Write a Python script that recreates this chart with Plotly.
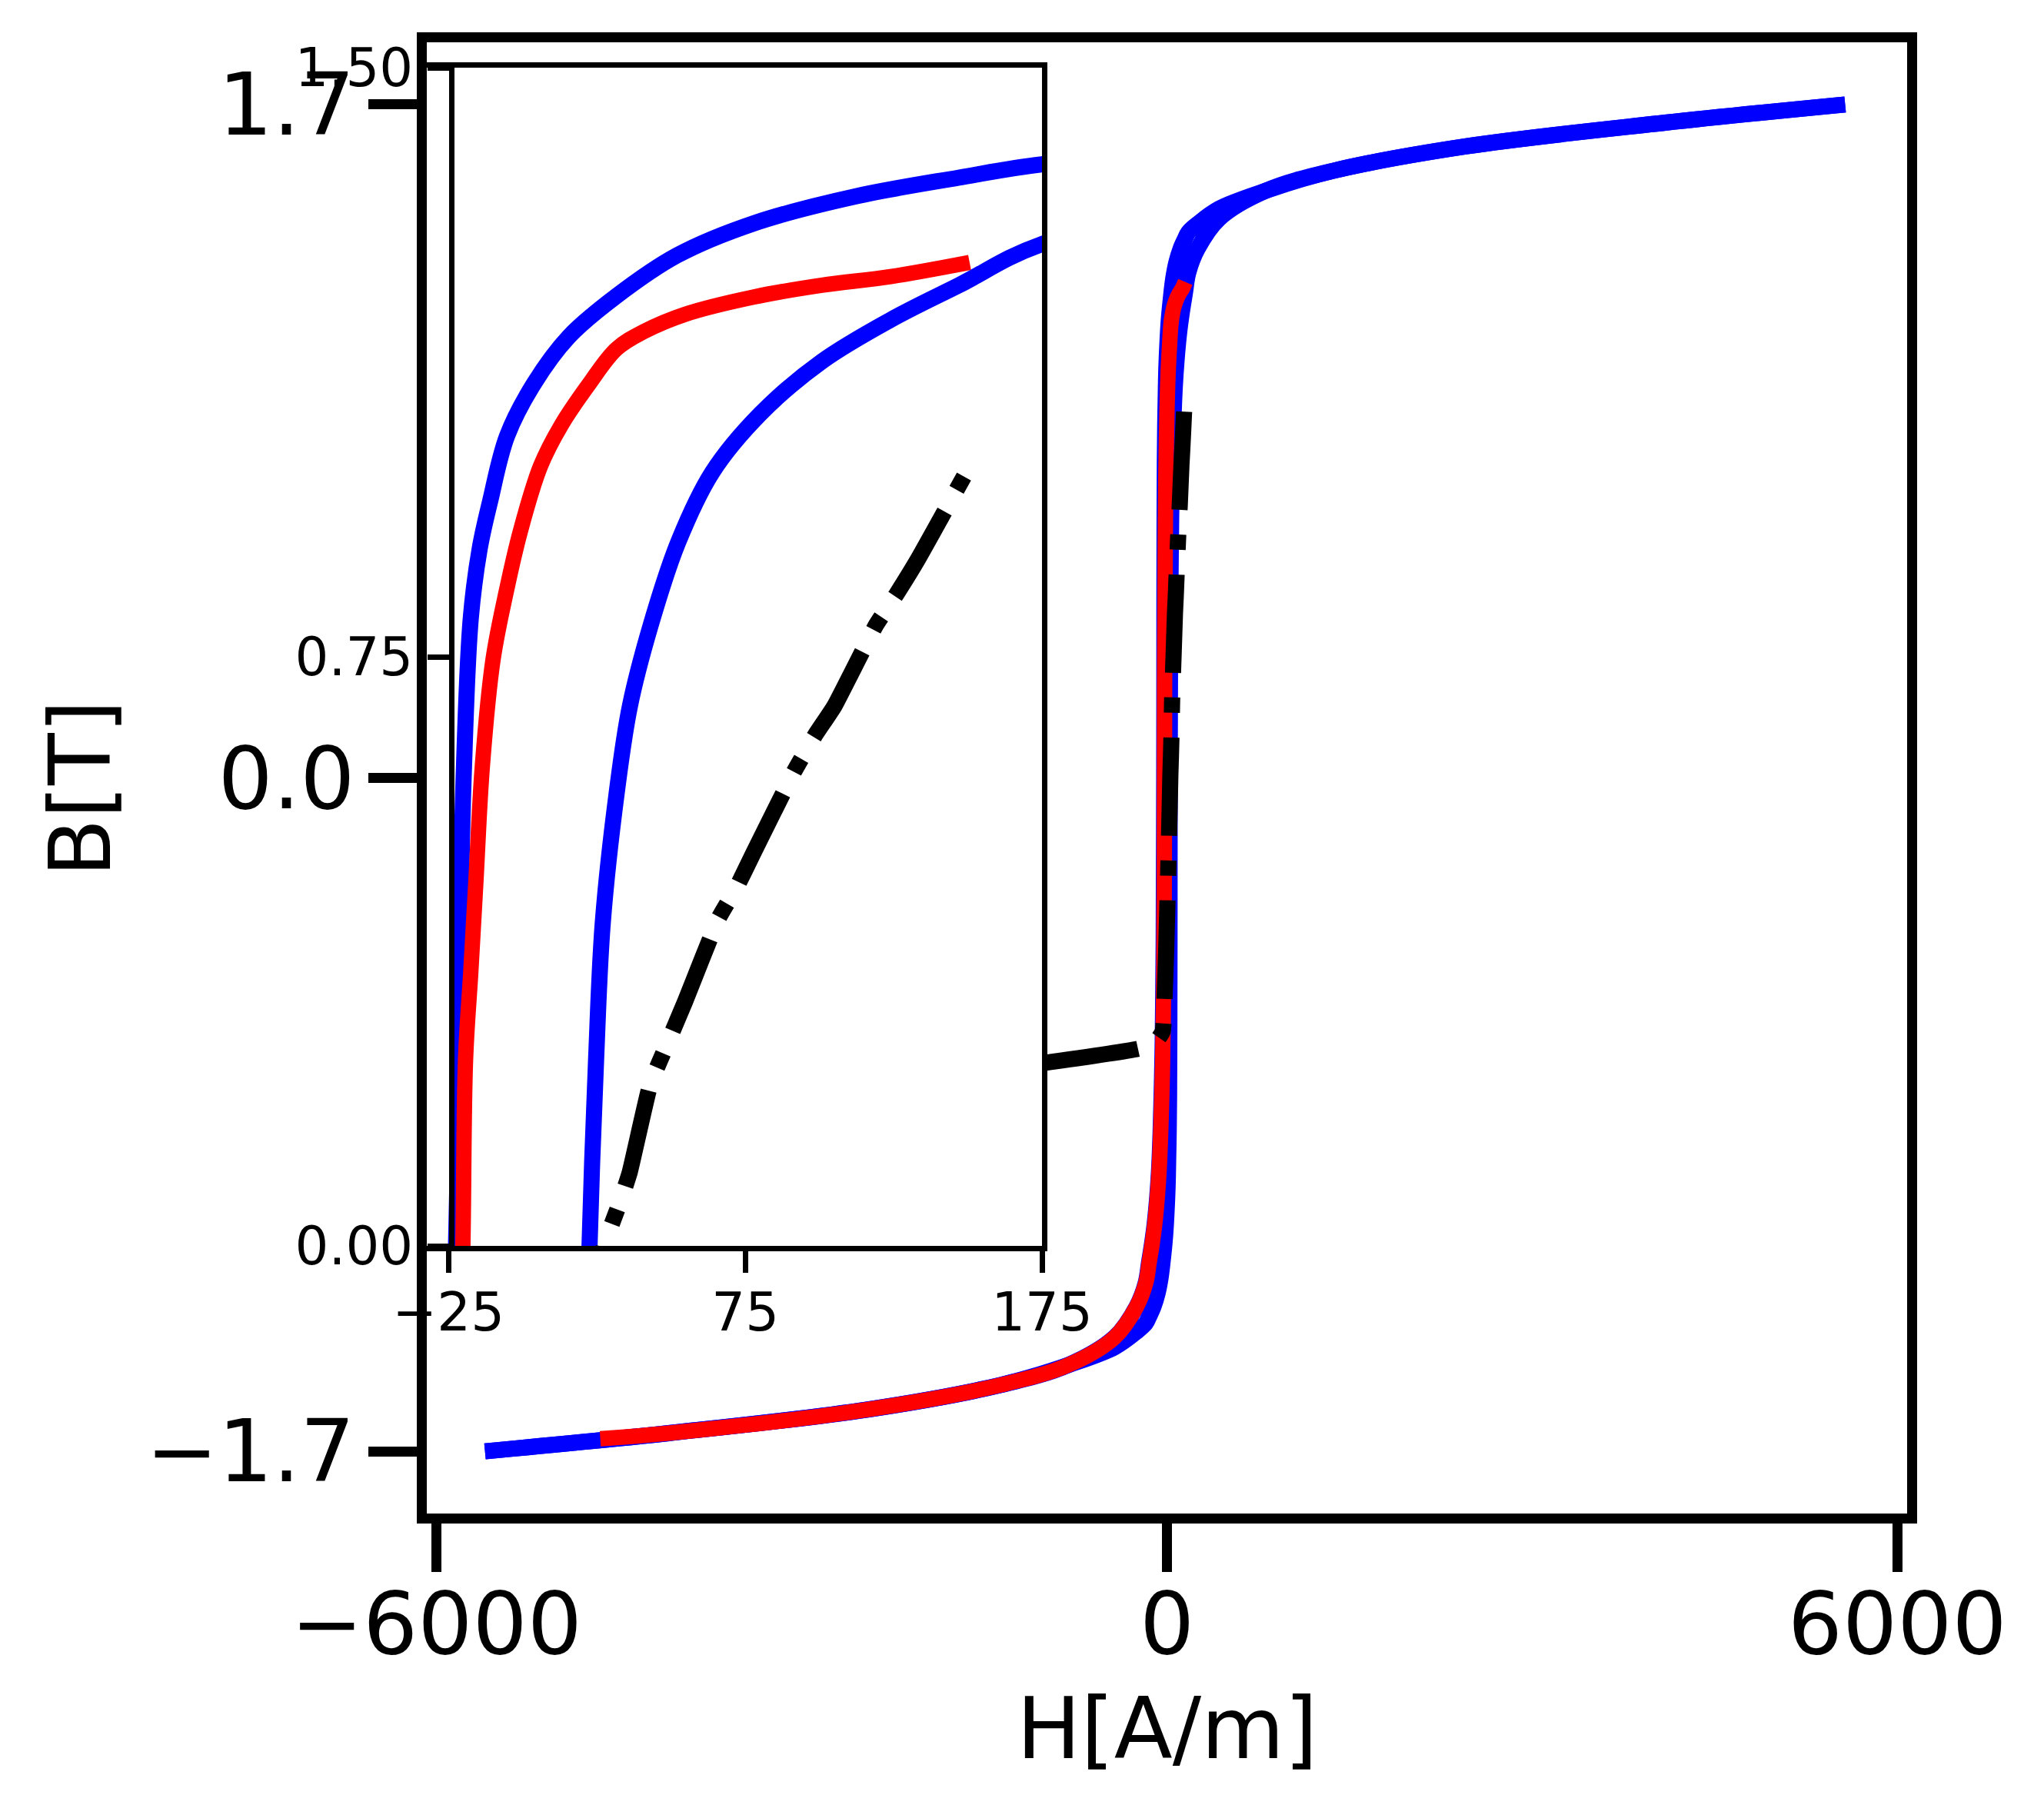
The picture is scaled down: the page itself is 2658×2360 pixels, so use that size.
import plotly.graph_objects as go

W, H = 2658, 2360
OFF = 8  # page body margin shifts the figure by this much


def px(x):
    return (x - OFF) / W


def py(y):
    return 1 - (y - OFF) / H


# major loop, descending branch (blue)
h_down = [5571, 4093, 2451, 1359, 810, 429, 250, 175, 147, 112, 78, 52, 31.5, 15.4, 3.8,
          -5.3, -11, -14.5, -17.5, -19.8, -21.0, -21.5, -22.5, -24.7, -27, -31.6, -36.1,
          -43.1, -52.4, -63.9, -80, -100.8, -124, -147, -174.7, -250, -429, -810, -1359,
          -2451, -4093, -5602]
b_down = [1.700, 1.654, 1.594, 1.532, 1.482, 1.437, 1.398, 1.377, 1.360, 1.336, 1.302, 1.261,
          1.209, 1.157, 1.098, 1.031, 0.948, 0.888, 0.800, 0.612, 0.413, 0.200, 0.0, -0.236,
          -0.413, -0.575, -0.687, -0.790, -0.896, -0.985, -1.059, -1.126, -1.179, -1.223,
          -1.275, -1.335, -1.412, -1.482, -1.532, -1.594, -1.654, -1.700]

# major loop, ascending branch (blue)
h_up = [-5602, -4093, -2451, -1359, -810, -429, -250, -175, -147, -112, -78, -52, -31.5,
        -15.4, -3.8, 5.3, 11, 14.5, 17.5, 19.8, 21.0, 21.5, 22.5, 24.7, 27, 31.6, 36.1, 43.1,
        52.4, 63.9, 80, 100.8, 124, 147, 174.7, 250, 429, 810, 1359, 2451, 4093, 5571]
b_up = [-1.700, -1.654, -1.594, -1.532, -1.482, -1.437, -1.398, -1.377, -1.360, -1.336,
        -1.302, -1.261, -1.209, -1.157, -1.098, -1.031, -0.948, -0.888, -0.800, -0.612,
        -0.413, -0.200, 0.0, 0.236, 0.413, 0.575, 0.687, 0.790, 0.896, 0.985, 1.059, 1.126,
        1.179, 1.223, 1.275, 1.335, 1.412, 1.482, 1.532, 1.594, 1.654, 1.700]

# minor descending branch (red)
h_red = [150.6, 124, 100.8, 77.8, 54.7, 40.8, 31.6, 22.3, 13, 6, -0.8, -5.4, -10, -13.6,
         -15.8, -17.5, -19.3, -20.2, -21.5, -23.5, -26.5, -31, -36, -43, -52, -63.5, -79.5,
         -100, -123, -146, -174, -250, -429, -810, -1359, -2451, -4093, -4655]
b_red = [1.252, 1.234, 1.223, 1.208, 1.186, 1.164, 1.142, 1.097, 1.045, 0.993, 0.910, 0.836,
         0.747, 0.612, 0.464, 0.350, 0.236, 0.0, -0.200, -0.350, -0.500, -0.620, -0.720,
         -0.810, -0.900, -0.985, -1.059, -1.126, -1.179, -1.223, -1.275, -1.335, -1.412,
         -1.482, -1.532, -1.594, -1.654, -1.668]

# dash-dot curve (black)
h_blk = [-1040, -227, -90, -35, -20, -5, 10, 22, 28, 32.7, 36, 43, 48.9, 54.7, 66,
         72, 77.7, 91.6, 98.5, 105, 119, 126, 133, 149.5]
b_blk = [-0.721, -0.683, -0.665, -0.640, -0.560, -0.420, -0.240, -0.080, 0.007,
         0.055, 0.093, 0.206, 0.259, 0.311, 0.417, 0.456, 0.500, 0.605, 0.650, 0.687, 0.790,
         0.830, 0.873, 0.985]

main_xticks = [-6000, 0, 6000]
main_xlabels = ["\u22126000", "0", "6000"]
main_yticks = [-1.7, 0.0, 1.7]
main_ylabels = ["\u22121.7", "0.0", "1.7"]
inset_xticks = [-25, 75, 175]
inset_xlabels = ["\u221225", "75", "175"]
inset_yticks = [0.0, 0.75, 1.5]
inset_ylabels = ["0.00", "0.75", "1.50"]

series = [
    (h_down, b_down, "blue", 21, "solid", 1.0),
    (h_up, b_up, "blue", 21, "solid", 1.0),
    (h_red, b_red, "red", 20, "solid", 1.0),
    (h_blk, b_blk, "black", 21, "128px,32px,20px,32px", 0.4),
]

fig = go.Figure()
for xa, ya in [("x", "y"), ("x2", "y2")]:
    for hx, by, col, lw, dash, sm in series:
        fig.add_trace(go.Scatter(
            x=hx, y=by, mode="lines", xaxis=xa, yaxis=ya,
            line=dict(color=col, width=lw, dash=dash, shape="spline", smoothing=sm),
            hoverinfo="skip", showlegend=False))

tick_main = dict(showline=True, linecolor="black", linewidth=13, mirror=True,
                 ticks="outside", ticklen=63, tickwidth=13, tickcolor="black",
                 tickfont=dict(size=112, color="black"), showgrid=False, zeroline=False,
                 automargin=False)
tick_inset = dict(showline=True, linecolor="black", linewidth=7,
                  ticks="outside", ticklen=28, tickwidth=7, tickcolor="black",
                  tickfont=dict(size=69, color="black"), showgrid=False, zeroline=False,
                  automargin=False)

fig.update_layout(
    template="none",
    width=W, height=H,
    margin=dict(l=0, r=0, t=0, b=0, pad=0),
    paper_bgcolor="white", plot_bgcolor="white",
    font=dict(family="DejaVu Sans", color="black"),
    showlegend=False,
    xaxis=dict(domain=[px(555), px(2480)], range=[-6080, 6080], anchor="y",
               ticklabelstandoff=-28,
               tickmode="array", tickvals=main_xticks, ticktext=main_xlabels, **tick_main),
    yaxis=dict(domain=[py(1968), py(55)], range=[-1.857, 1.857], anchor="x",
               ticklabelstandoff=-5,
               tickmode="array", tickvals=main_yticks, ticktext=main_ylabels, **tick_main),
    xaxis2=dict(domain=[px(555), px(1355)], range=[-32.35, 175], anchor="y2", mirror=True,
                ticklabelstandoff=-8,
                tickmode="array", tickvals=inset_xticks, ticktext=inset_xlabels, **tick_inset),
    yaxis2=dict(domain=[py(1620), py(88)], range=[0, 1.5], anchor="free",
                position=px(587), ticklabelstandoff=5,
                tickmode="array", tickvals=inset_yticks, ticktext=inset_ylabels, **tick_inset),
    shapes=[dict(type="line", xref="paper", yref="paper",
                 x0=px(1358.5), x1=px(1358.5), y0=py(1627), y1=py(81),
                 line=dict(color="black", width=7), layer="above")],
    annotations=[
        dict(text="H[A/m]", xref="paper", yref="paper", x=px(1517.5), y=py(2247),
             xanchor="center", yanchor="middle", showarrow=False,
             font=dict(size=111, color="black")),
        dict(text="B[T]", xref="paper", yref="paper", x=px(103.5), y=py(1025),
             xanchor="center", yanchor="middle", showarrow=False, textangle=-90,
             font=dict(size=111, color="black")),
    ],
)

fig.write_html("out.html")
